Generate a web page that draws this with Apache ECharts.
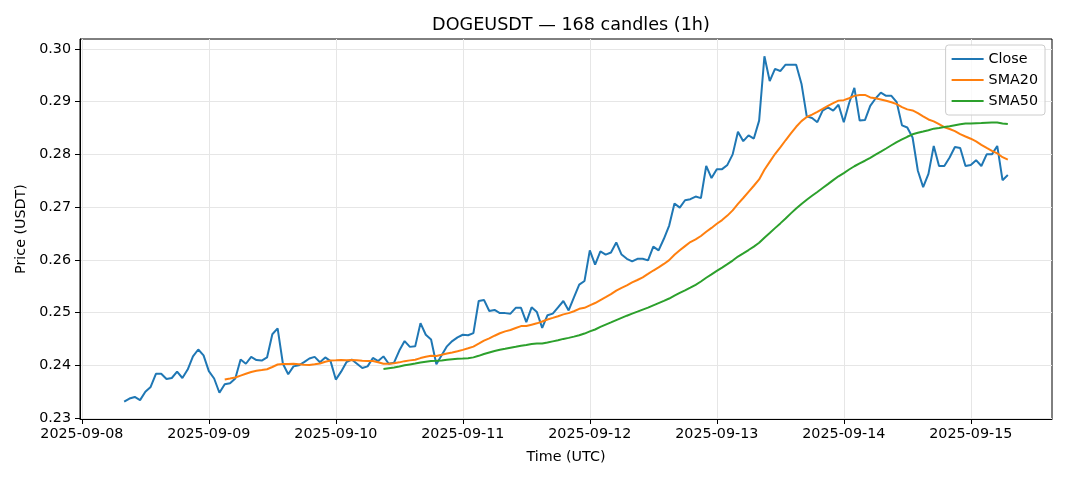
<!DOCTYPE html>
<html><head><meta charset="utf-8">
<script src="https://cdn.jsdelivr.net/npm/echarts@6/dist/echarts.min.js"></script>
<style>html,body{margin:0;padding:0;background:#fff}#c{width:1068px;height:481px}</style>
</head><body><div id="c"></div>
<script>
// ---- data ----
const START_UTC = Date.UTC(2025, 8, 8, 8, 0, 0); // first candle 2025-09-08 08:00 UTC
const HOUR = 3600000;
const closeValues = [
  0.2331,0.2337,0.2340,0.2334,0.2350,0.2359,0.2384,0.2384,0.2374,0.2376,
  0.2388,0.2376,0.2392,0.2417,0.2430,0.2419,0.2389,0.2375,0.2348,0.2364,
  0.2366,0.2375,0.2411,0.2403,0.2416,0.2410,0.2409,0.2415,0.2459,0.2470,
  0.2403,0.2383,0.2398,0.2400,0.2406,0.2413,0.2416,0.2406,0.2415,0.2408,
  0.2373,0.2388,0.2406,0.2411,0.2403,0.2395,0.2398,0.2414,0.2408,0.2417,
  0.2403,0.2405,0.2428,0.2446,0.2435,0.2436,0.2480,0.2458,0.2449,0.2402,
  0.2419,0.2436,0.2446,0.2453,0.2458,0.2457,0.2461,0.2522,0.2524,0.2503,
  0.2505,0.2499,0.2499,0.2498,0.2509,0.2509,0.2482,0.2510,0.2501,0.2471,
  0.2495,0.2498,0.2510,0.2522,0.2504,0.2529,0.2553,0.2560,0.2618,0.2591,
  0.2616,0.2610,0.2614,0.2633,0.2610,0.2602,0.2597,0.2602,0.2602,0.2599,
  0.2625,0.2618,0.2640,0.2665,0.2707,0.2699,0.2713,0.2715,0.2720,0.2717,
  0.2778,0.2755,0.2772,0.2772,0.2780,0.2800,0.2843,0.2825,0.2836,0.2830,
  0.2864,0.2986,0.2939,0.2962,0.2958,0.2970,0.2970,0.2970,0.2934,0.2872,
  0.2869,0.2861,0.2883,0.2889,0.2883,0.2894,0.2861,0.2897,0.2926,0.2864,
  0.2865,0.2892,0.2906,0.2917,0.2911,0.2911,0.2899,0.2855,0.2851,0.2832,
  0.2769,0.2738,0.2763,0.2816,0.2778,0.2778,0.2794,0.2814,0.2812,0.2778,
  0.2780,0.2789,0.2778,0.2800,0.2800,0.2816,0.2751,0.2761
];
const dayTickLabels = ['2025-09-08','2025-09-09','2025-09-10','2025-09-11','2025-09-12','2025-09-13','2025-09-14','2025-09-15'];
const yTickValues = [0.23,0.24,0.25,0.26,0.27,0.28,0.29,0.30];
const seriesNames = ['Close','SMA20','SMA50'];

// ---- derived ----
const times = closeValues.map((_, i) => START_UTC + i * HOUR);
function sma(arr, n) {
  const out = [];
  for (let i = n - 1; i < arr.length; i++) {
    let s = 0;
    for (let k = i - n + 1; k <= i; k++) s += arr[k];
    out.push([times[i], s / n]);
  }
  return out;
}
const closePts = closeValues.map((v, i) => [times[i], v]);
const sma20Pts = sma(closeValues, 20);
const sma50Pts = sma(closeValues, 50);
const dayTickValues = dayTickLabels.map(d => Date.parse(d + 'T00:00:00Z'));

// matplotlib-like 5% margins
const span = times[times.length - 1] - times[0];
const xMin = times[0] - 0.05 * span;
const xMax = times[times.length - 1] + 0.05 * span;
const vMin = Math.min(...closeValues), vMax = Math.max(...closeValues);
const yMin = vMin - 0.05 * (vMax - vMin);
const yMax = vMax + 0.05 * (vMax - vMin);

const FONT = 'DejaVu Sans';
const FS = 14.3;
const chart = echarts.init(document.getElementById('c'), null, {renderer: 'canvas'});
chart.setOption({
  animation: false,
  backgroundColor: '#ffffff',
  textStyle: {fontFamily: FONT},
  title: {
    text: 'DOGEUSDT — 168 candles (1h)',
    left: 566, top: 11, textAlign: 'center',
    textStyle: {fontFamily: FONT, fontSize: 17.6, fontWeight: 'normal', color: '#000'}
  },
  grid: {left: 80, right: 16, top: 39, bottom: 62, show: true, borderColor: '#000', borderWidth: 1, backgroundColor: 'transparent'},
  legend: {
    orient: 'vertical', right: 23, top: 45,
    icon: 'rect', itemWidth: 32, itemHeight: 2, itemGap: 7,
    padding: [7, 7, 7, 6],
    backgroundColor: 'rgba(255,255,255,0.8)', borderColor: '#cccccc', borderWidth: 1, borderRadius: 3,
    textStyle: {fontFamily: FONT, fontSize: FS, color: '#000'},
    data: seriesNames
  },
  xAxis: {
    type: 'value', min: xMin, max: xMax,
    name: 'Time (UTC)', nameLocation: 'middle', nameGap: 31,
    nameTextStyle: {fontFamily: FONT, fontSize: FS, color: '#000'},
    axisLine: {show: true, lineStyle: {color: '#000', width: 1}},
    axisTick: {show: true, length: 5, inside: false, customValues: dayTickValues, lineStyle: {color: '#000', width: 1}},
    axisLabel: {
      customValues: dayTickValues, margin: 8, color: '#000', fontFamily: FONT, fontSize: FS,
      formatter: v => new Date(v).toISOString().slice(0, 10)
    },
    splitLine: {show: true, lineStyle: {color: '#e6e6e6', width: 1}}
  },
  yAxis: {
    type: 'value', min: yMin, max: yMax,
    name: 'Price (USDT)', nameLocation: 'middle', nameRotate: 90, nameGap: 50,
    nameTextStyle: {fontFamily: FONT, fontSize: FS, color: '#000'},
    axisLine: {show: true, lineStyle: {color: '#000', width: 1}},
    axisTick: {show: true, length: 5, inside: false, customValues: yTickValues, lineStyle: {color: '#000', width: 1}},
    axisLabel: {
      customValues: yTickValues, margin: 9, color: '#000', fontFamily: FONT, fontSize: FS,
      formatter: v => v.toFixed(2)
    },
    splitLine: {show: true, lineStyle: {color: '#e6e6e6', width: 1}}
  },
  series: [
    {name: seriesNames[0], type: 'line', data: closePts, showSymbol: false, symbol: 'none',
     lineStyle: {color: '#1f77b4', width: 2}, itemStyle: {color: '#1f77b4'}, z: 3},
    {name: seriesNames[1], type: 'line', data: sma20Pts, showSymbol: false, symbol: 'none',
     lineStyle: {color: '#ff7f0e', width: 2}, itemStyle: {color: '#ff7f0e'}, z: 4},
    {name: seriesNames[2], type: 'line', data: sma50Pts, showSymbol: false, symbol: 'none',
     lineStyle: {color: '#2ca02c', width: 2}, itemStyle: {color: '#2ca02c'}, z: 5}
  ]
});
</script>
</body></html>
